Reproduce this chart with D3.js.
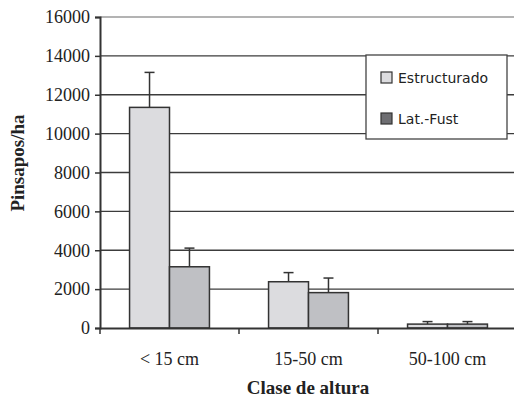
<!DOCTYPE html>
<html>
<head>
<meta charset="utf-8">
<script src="https://cdn.jsdelivr.net/npm/d3@7"></script>
<style>
  body { margin: 0; background: #fff; }
  svg { display: block; }
</style>
</head>
<body>
<div id="chart"></div>
<script>
var categories = ['< 15 cm', '15-50 cm', '50-100 cm']
var seriesNames = ['Estructurado', 'Lat.-Fust']
var estructurado = [11350, 2380, 200]
var estructuradoErr = [1800, 470, 130]
var latFust = [3150, 1820, 200]
var latFustErr = [960, 750, 130]
var yTicks = [0, 2000, 4000, 6000, 8000, 10000, 12000, 14000, 16000]

var w = 514, h = 400

var barColors = ['#dcdcdf', '#bfc0c4']
var legendColors = ['#dcdcdf', '#6e6e72']

var svg = d3.select('#chart')
  .append('svg')
  .attr('width', w)
  .attr('height', h)

var x = d3.scaleBand()
  .domain(categories)
  .range([100, 517])

var x1 = d3.scaleBand()
  .domain(seriesNames)
  .range([0, x.bandwidth()])
  .paddingOuter(0.74)

var y = d3.scaleLinear()
  .domain([0, 16000])
  .range([328, 17])

//gridlines
svg.selectAll('.grid')
  .data(yTicks.slice(1))
  .enter()
  .append('line')
  .attr('x1', 100)
  .attr('x2', w)
  .attr('y1', d => y(d))
  .attr('y2', d => y(d))
  .attr('stroke', d => d === 16000 ? '#9a9a9a' : '#3c3c3c')
  .attr('stroke-width', 1.3)

//y axis
var yAxis = svg.append('g')
  .attr('transform', 'translate(100,0)')
  .call(d3.axisLeft(y).tickValues(yTicks).tickSize(5).tickPadding(5).tickFormat(d3.format('d')))
yAxis.select('.domain').attr('stroke', '#333').attr('stroke-width', 2)
yAxis.selectAll('.tick line').attr('stroke', '#333').attr('stroke-width', 1.5)
yAxis.selectAll('text')
  .attr('fill', '#222')
  .style('font-family', 'Liberation Serif, Times New Roman, serif')
  .style('font-size', '18px')

var rows = []
categories.forEach(function(c, i) {
  rows.push({ cat: c, s: seriesNames[0], v: estructurado[i], e: estructuradoErr[i], col: barColors[0] })
  rows.push({ cat: c, s: seriesNames[1], v: latFust[i], e: latFustErr[i], col: barColors[1] })
})

//error bars (behind the bars)
var err = svg.selectAll('.err')
  .data(rows)
  .enter()
  .append('g')
  .attr('class', 'err')
err.append('line')
  .attr('x1', d => x(d.cat) + x1(d.s) + x1.bandwidth() / 2)
  .attr('x2', d => x(d.cat) + x1(d.s) + x1.bandwidth() / 2)
  .attr('y1', d => y(d.v))
  .attr('y2', d => y(d.v + d.e))
  .attr('stroke', '#333')
  .attr('stroke-width', 1.5)
err.append('line')
  .attr('x1', d => x(d.cat) + x1(d.s) + x1.bandwidth() / 2 - 5)
  .attr('x2', d => x(d.cat) + x1(d.s) + x1.bandwidth() / 2 + 5)
  .attr('y1', d => y(d.v + d.e))
  .attr('y2', d => y(d.v + d.e))
  .attr('stroke', '#333')
  .attr('stroke-width', 1.5)

svg.selectAll('.bar')
  .data(rows)
  .enter()
  .append('rect')
  .attr('class', 'bar')
  .attr('x', d => x(d.cat) + x1(d.s))
  .attr('y', d => y(d.v))
  .attr('width', x1.bandwidth())
  .attr('height', d => y(0) - y(d.v))
  .attr('fill', d => d.col)
  .attr('stroke', '#333')
  .attr('stroke-width', 1.5)

//x axis
var xAxis = svg.append('g')
  .attr('transform', 'translate(0,328)')
  .call(d3.axisBottom(x).tickSize(0).tickPadding(24))
xAxis.select('.domain').attr('stroke', '#333').attr('stroke-width', 2)
xAxis.selectAll('text')
  .attr('fill', '#222')
  .style('font-family', 'Liberation Serif, Times New Roman, serif')
  .style('font-size', '18px')

svg.selectAll('.xtick')
  .data(categories)
  .enter()
  .append('line')
  .attr('x1', d => x(d))
  .attr('x2', d => x(d))
  .attr('y1', 328)
  .attr('y2', 334)
  .attr('stroke', '#333')
  .attr('stroke-width', 1.5)

//axis titles
svg.append('text')
  .attr('x', 308)
  .attr('y', 394)
  .attr('text-anchor', 'middle')
  .style('font-family', 'Liberation Serif, Times New Roman, serif')
  .style('font-weight', 'bold')
  .style('font-size', '19px')
  .attr('fill', '#222')
  .text('Clase de altura')

svg.append('text')
  .attr('transform', 'translate(24,163) rotate(-90)')
  .attr('text-anchor', 'middle')
  .style('font-family', 'Liberation Serif, Times New Roman, serif')
  .style('font-weight', 'bold')
  .style('font-size', '19px')
  .attr('fill', '#222')
  .text('Pinsapos/ha')

//legend
var legend = svg.append('g')
legend.append('rect')
  .attr('x', 366)
  .attr('y', 55)
  .attr('width', 141)
  .attr('height', 84)
  .attr('fill', '#fff')
  .attr('stroke', '#444')
  .attr('stroke-width', 1.3)

var li = legend.selectAll('.li')
  .data(seriesNames)
  .enter()
  .append('g')
  .attr('transform', (d, i) => `translate(381,${72 + i * 41})`)
li.append('rect')
  .attr('width', 11)
  .attr('height', 11)
  .attr('fill', (d, i) => legendColors[i])
  .attr('stroke', '#333')
  .attr('stroke-width', 1.2)
li.append('text')
  .attr('x', 17)
  .attr('y', 11)
  .style('font-family', 'DejaVu Sans, Verdana, sans-serif')
  .style('font-size', '14px')
  .attr('fill', '#222')
  .text(d => d)
</script>
</body>
</html>
